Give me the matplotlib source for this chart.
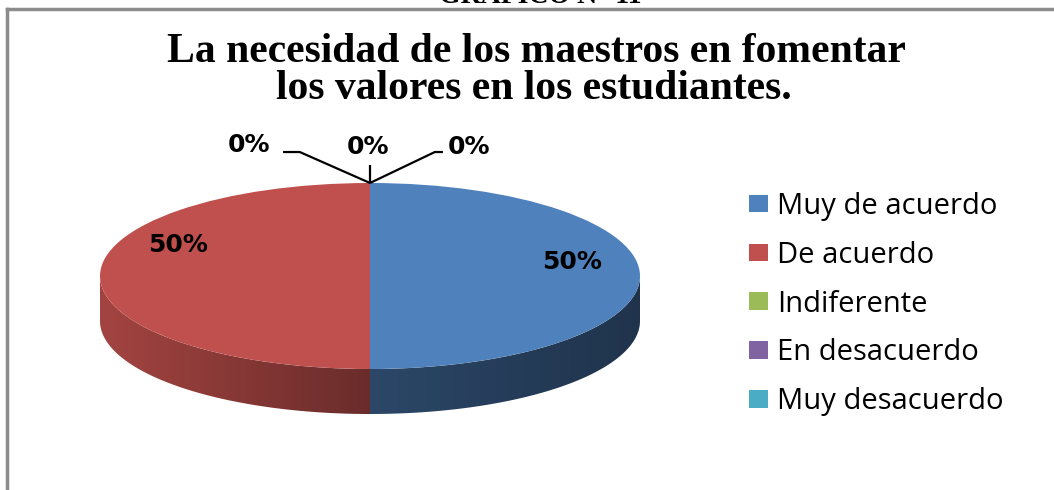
import numpy as np
import matplotlib
matplotlib.use("Agg")
import matplotlib.pyplot as plt
from matplotlib.patches import Patch, Polygon
from matplotlib.lines import Line2D
from matplotlib.colors import to_rgb

# ---- data ----
categories = ["Muy de acuerdo", "De acuerdo", "Indiferente", "En desacuerdo", "Muy desacuerdo"]
values = [50, 50, 0, 0, 0]
pct_labels = ["50%", "50%", "0%", "0%", "0%"]
colors = ["#4F81BD", "#C0504D", "#9BBB59", "#8064A2", "#4BACC6"]
title_lines = ["La necesidad de los maestros en fomentar", "los valores en los estudiantes."]
header = "GRÁFICO N° 11"

W, H = 1054, 490
fig = plt.figure(figsize=(W / 100, H / 100), dpi=100)

def fx(px):
    return px / W

def fy(py):
    return 1 - py / H

# ---- pie axes: unit circle -> ellipse (rx=270px, ry=93px) centered at (370,276) ----
cx, cy, rx, ry = 370, 276, 270, 93
xa, ylo, yhi = 1.3, -2.0, 1.6
ax = fig.add_axes([fx(cx - xa * rx), fy(cy - ylo * ry), 2 * xa * rx / W, (yhi - ylo) * ry / H])
depth = 45 / ry

wedges, _ = ax.pie(values, colors=colors, startangle=90, counterclock=False,
                   radius=1, center=(0, 0), wedgeprops=dict(linewidth=0))
for w in wedges:
    w.set_zorder(3)
ax.set_aspect("auto")
ax.set_xlim(-xa, xa)
ax.set_ylim(ylo, yhi)
ax.axis("off")

# side walls with horizontal shading
def shade(x):
    return np.where(x <= 0, 0.85 - 0.30 * (x + 1), 0.55 - 0.15 * x)

total = float(sum(values))
cum = np.concatenate([[0], np.cumsum(values)]) / total
for i, val in enumerate(values):
    if val <= 0:
        continue
    t_hi = 90 - 360 * cum[i]
    t_lo = 90 - 360 * cum[i + 1]
    for k in (-1, 0, 1, 2):
        a0 = max(t_lo + 360 * k, 180)
        a1 = min(t_hi + 360 * k, 360)
        if a1 <= a0:
            continue
        t = np.radians(np.linspace(a0, a1, 200))
        xs, ys = np.cos(t), np.sin(t)
        pts = np.vstack([np.column_stack([xs, ys]),
                         np.column_stack([xs[::-1], ys[::-1] - depth])])
        poly = Polygon(pts, closed=True, facecolor="none", edgecolor="none")
        ax.add_patch(poly)
        xg = np.linspace(xs.min(), xs.max(), 300)
        base = np.array(to_rgb(colors[i]))
        img = np.clip(shade(xg)[:, None] * base[None, :], 0, 1)[None, :, :]
        im = ax.imshow(img, extent=[xg.min(), xg.max(), ys.min() - depth, ys.max()],
                       aspect="auto", zorder=2, interpolation="bilinear")
        im.set_clip_path(poly)

# percentage labels for non-zero slices
label_dx = {0: 0.0, 1: 0.04}
label_dy = {0: 0.15, 1: 0.33}
for i, val in enumerate(values):
    if val <= 0:
        continue
    mid = np.radians(90 - 360 * (cum[i] + cum[i + 1]) / 2)
    ax.text(0.75 * np.cos(mid) + label_dx.get(i, 0), 0.75 * np.sin(mid) + label_dy.get(i, 0),
            pct_labels[i], ha="center", va="center", fontsize=18, fontweight="bold",
            family="DejaVu Sans", zorder=5)

# zero-slice labels with leader lines from the top of the pie
zero_idx = [i for i, v in enumerate(values) if v == 0]
zero_pos = [(-0.447, 1.41), (-0.007, 1.39), (0.365, 1.39)]
zero_lines = [[(0, 1), (-0.26, 1.333), (-0.322, 1.333)],
              [(0, 1), (0, 1.19)],
              [(0, 1), (0.24, 1.333), (0.27, 1.333)]]
for j, i in enumerate(zero_idx):
    mid = np.radians(90 - 360 * cum[i])
    x0, y0 = np.cos(mid), np.sin(mid)
    ln = zero_lines[j]
    ax.plot([x0] + [p[0] for p in ln[1:]], [y0] + [p[1] for p in ln[1:]],
            color="black", lw=1.6, zorder=6, solid_capstyle="butt")
    ax.text(zero_pos[j][0], zero_pos[j][1], pct_labels[i], ha="center", va="center",
            fontsize=18, fontweight="bold", family="DejaVu Sans", zorder=6)

# ---- titles ----
fig.text(fx(536), fy(62), title_lines[0], ha="center", va="baseline",
         fontsize=30, fontweight="bold", family="Liberation Serif")
fig.text(fx(534), fy(99), title_lines[1], ha="center", va="baseline",
         fontsize=30, fontweight="bold", family="Liberation Serif")
fig.text(fx(540), fy(3), header, ha="center", va="baseline",
         fontsize=20, fontweight="bold", family="Liberation Serif")

# ---- legend ----
handles = [Patch(facecolor=c, edgecolor="none") for c in colors]
fig.legend(handles, categories, loc="center left", bbox_to_anchor=(fx(749), fy(304)),
           frameon=False, prop={"family": "Open Sans", "size": 21},
           handlelength=0.65, handleheight=0.55, handletextpad=0.3,
           labelspacing=0.68, borderpad=0, borderaxespad=0)

# ---- frame lines ----
fig.add_artist(Line2D([fx(7), fx(7)], [0, fy(9)], color="#8c8c8c", lw=2.5,
                      transform=fig.transFigure))
fig.add_artist(Line2D([fx(7), 1], [fy(9), fy(9)], color="#8c8c8c", lw=2.5,
                      transform=fig.transFigure))

fig.savefig("out.png", dpi=100)
